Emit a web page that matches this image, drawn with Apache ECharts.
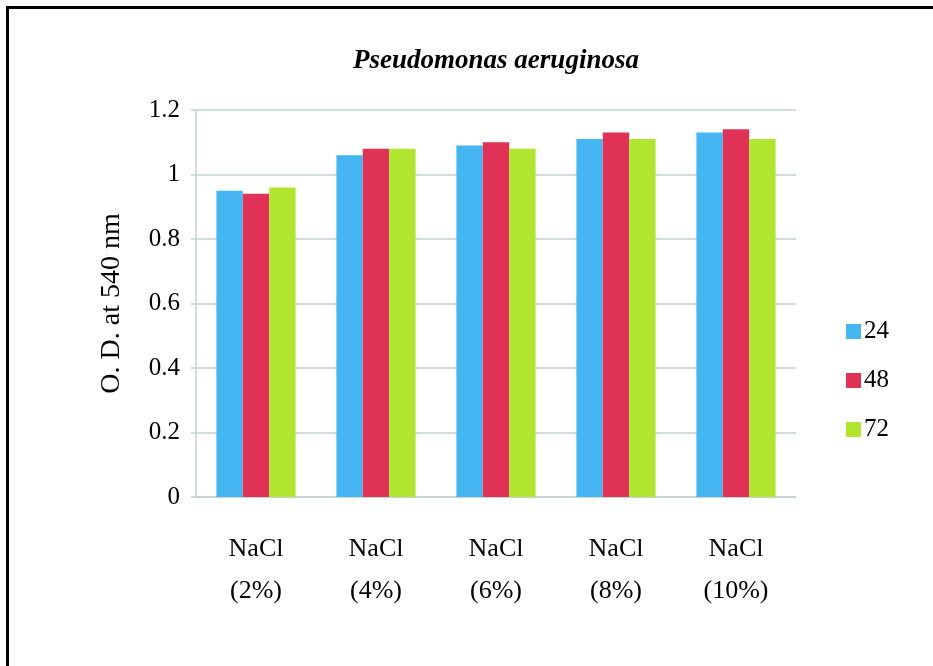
<!DOCTYPE html>
<html>
<head>
<meta charset="utf-8">
<script src="https://cdn.jsdelivr.net/npm/echarts@6/dist/echarts.min.js"></script>
<style>
  html, body { margin: 0; padding: 0; background: #fff; }
  #chart { width: 933px; height: 666px; position: absolute; left: 0; top: 0; }
  #frame { position: absolute; left: 6px; top: 6px; right: -10px; bottom: -10px;
           border-left: 3px solid #000; border-top: 3px solid #000; pointer-events: none; }
</style>
</head>
<body>
<div id="chart"></div>
<div id="frame"></div>
<script>
// Salt concentrations tested
const categories = ['NaCl\n(2%)', 'NaCl\n(4%)', 'NaCl\n(6%)', 'NaCl\n(8%)', 'NaCl\n(10%)'];
// Incubation time (h) for each series
const seriesNames = ['24', '48', '72'];
// Optical density readings at 540 nm
const od24 = [0.95, 1.06, 1.09, 1.11, 1.13];
const od48 = [0.94, 1.08, 1.10, 1.13, 1.14];
const od72 = [0.96, 1.08, 1.08, 1.11, 1.11];
// Y-axis ticks
const yTicks = [0, 0.2, 0.4, 0.6, 0.8, 1, 1.2];

const colors = ['#45b6f2', '#e03254', '#b2e52f'];
const serif = '"Liberation Serif", "Times New Roman", serif';

const chart = echarts.init(document.getElementById('chart'), null, { renderer: 'canvas' });
chart.setOption({
  animation: false,
  color: colors,
  title: {
    text: 'Pseudomonas aeruginosa',
    left: 491,
    textAlign: 'center',
    top: 43,
    textStyle: { fontFamily: serif, fontStyle: 'italic', fontWeight: 'bold', fontSize: 27, color: '#000' }
  },
  legend: {
    orient: 'vertical',
    left: 841,
    top: 314,
    itemWidth: 15,
    itemHeight: 15,
    itemGap: 24,
    icon: 'rect',
    textStyle: { fontFamily: serif, fontSize: 25, color: '#000', padding: [0, 0, 0, -2] },
    data: seriesNames
  },
  grid: { left: 196, right: 137, top: 110, bottom: 169, containLabel: false },
  xAxis: {
    type: 'category',
    data: categories,
    axisLine: { lineStyle: { color: '#c5d0d3', width: 1.5 } },
    axisTick: { show: false },
    axisLabel: {
      fontFamily: serif, fontSize: 26, color: '#000',
      lineHeight: 42, margin: 31
    }
  },
  yAxis: {
    type: 'value',
    min: 0,
    max: 1.2,
    interval: 0.2,
    name: 'O. D. at 540 nm',
    nameLocation: 'middle',
    nameGap: 70,
    nameTextStyle: { fontFamily: serif, fontSize: 28, color: '#000' },
    axisLine: { show: true, lineStyle: { color: '#c5d0d3', width: 1.5 } },
    axisTick: { show: true, length: 5, lineStyle: { color: '#c5d0d3', width: 1.5 } },
    splitLine: { lineStyle: { color: '#c5d0d3', width: 1.5 } },
    axisLabel: {
      fontFamily: serif, fontSize: 25, color: '#000', margin: 16,
      formatter: v => {
        const t = yTicks.find(x => Math.abs(x - v) < 1e-9);
        return t === undefined ? '' : String(t);
      }
    }
  },
  series: [
    { name: seriesNames[0], type: 'bar', data: od24, barGap: '0%', barCategoryGap: '34%' },
    { name: seriesNames[1], type: 'bar', data: od48, barGap: '0%', barCategoryGap: '34%' },
    { name: seriesNames[2], type: 'bar', data: od72, barGap: '0%', barCategoryGap: '34%' }
  ]
});
</script>
</body>
</html>
